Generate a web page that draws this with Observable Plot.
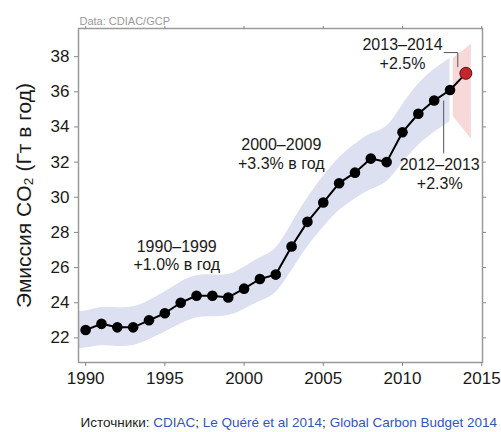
<!DOCTYPE html>
<html>
<head>
<meta charset="utf-8">
<script src="https://cdn.jsdelivr.net/npm/d3@7"></script>
<script src="https://cdn.jsdelivr.net/npm/@observablehq/plot@0.6"></script>
<style>
  body { margin: 0; background: #fff; font-family: "Liberation Sans", Arial, sans-serif; }
  #caption { font-size: 13.5px; text-align: right; padding-right: 4px; margin-top: 10px; color: #222; white-space: nowrap; }
  #caption a { color: #3355bb; text-decoration: none; }
</style>
</head>
<body>
<div id="chart"></div>
<div id="caption">Источники: <a>CDIAC</a>; <a>Le Quéré et al 2014</a>; <a>Global Carbon Budget 2014</a></div>
<script>
const years = [1990,1991,1992,1993,1994,1995,1996,1997,1998,1999,2000,2001,2002,2003,2004,2005,2006,2007,2008,2009,2010,2011,2012,2013,2014];
const emissions = [22.45,22.8,22.6,22.6,23.0,23.4,24.0,24.4,24.4,24.3,24.8,25.35,25.6,27.2,28.6,29.7,30.8,31.4,32.2,32.0,33.7,34.75,35.5,36.1,37.05];

const bandYears = [1989.6,1990,1991,1992,1993,1994,1995,1996,1997,1998,1999,2000,2001,2002,2003,2004,2005,2006,2007,2008,2009,2010,2011,2012,2013];
const bandLo = [21.4,21.4,21.6,21.5,21.5,21.9,22.3,22.8,23.2,23.2,23.2,23.6,24.1,24.4,25.8,27.2,28.3,29.3,29.9,30.5,30.7,32.0,33.0,33.7,34.3];
const bandHi = [23.5,23.5,23.8,23.7,23.7,24.1,24.6,25.2,25.6,25.6,25.5,26.0,26.6,26.9,28.5,30.0,31.2,32.3,33.0,33.7,33.8,35.3,36.5,37.3,37.9];

const projYears = [2013.2, 2014.35];
const projLo = [34.6, 33.3];
const projHi = [37.9, 38.7];

const xTicks = [1990,1995,2000,2005,2010,2015];
const yTicks = [22,24,26,28,30,32,34,36,38];

const notes = [
  {x: 1995.75, y: 26.72, text: "1990–1999\n+1.0% в год"},
  {x: 2002.35, y: 32.48, text: "2000–2009\n+3.3% в год"},
  {x: 2010.0, y: 38.17, text: "2013–2014\n+2.5%"},
  {x: 2012.35, y: 31.34, text: "2012–2013\n+2.3%"}
];
const leaders = [
  {x1: 2012.6, y1: 35.5, x2: 2012.6, y2: 32.5},
  {x1: 2012.6, y1: 38.23, x2: 2013.49, y2: 38.23},
  {x1: 2013.49, y1: 38.23, x2: 2013.49, y2: 37.4}
];

const series = years.map((y, i) => ({year: y, value: emissions[i]}));
const band = bandYears.map((y, i) => ({year: y, lo: bandLo[i], hi: bandHi[i]}));
const proj = projYears.map((y, i) => ({year: y, lo: projLo[i], hi: projHi[i]}));
const last = series.slice(-1);
const hist = series.slice(0, -1);

const font = "Liberation Sans, Arial, sans-serif";

const chart = Plot.plot({
  width: 501,
  height: 405,
  marginTop: 28,
  marginBottom: 43,
  marginLeft: 78,
  marginRight: 19,
  style: {fontFamily: font, background: "#fff", color: "#1a1a1a"},
  x: {domain: [1989.55, 2015.05]},
  y: {domain: [20.6, 39.6]},
  marks: [
    Plot.areaY(band, {x: "year", y1: "lo", y2: "hi", fill: "#dde0f1", curve: "basis"}),
    Plot.areaY(proj, {x: "year", y1: "lo", y2: "hi", fill: "#f6d2d2", fillOpacity: 0.85}),
    Plot.frame({stroke: "#9a9a9a", strokeWidth: 1.5}),
    Plot.axisX({ticks: xTicks, tickFormat: d => String(d), tickSize: 4, tickPadding: 5, fontSize: 17, label: null, stroke: "#888"}),
    Plot.axisX({anchor: "top", ticks: xTicks, tickSize: 3, text: null, label: null, stroke: "#888"}),
    Plot.axisY({ticks: yTicks, tickFormat: d => String(d), tickSize: 4, tickPadding: 5, fontSize: 17, label: null, stroke: "#888"}),
    Plot.axisY({anchor: "right", ticks: yTicks, tickSize: 3, text: null, label: null, stroke: "#888"}),
    Plot.line(series, {x: "year", y: "value", stroke: "#000", strokeWidth: 2}),
    Plot.dot(hist, {x: "year", y: "value", r: 5.3, fill: "#000"}),
    Plot.dot(last, {x: "year", y: "value", r: 6, fill: "#c4262e", stroke: "#5a1010", strokeWidth: 1}),
    Plot.link(leaders, {x1: "x1", y1: "y1", x2: "x2", y2: "y2", stroke: "#555", strokeWidth: 1}),
    Plot.text(notes, {x: "x", y: "y", text: "text", fontSize: 16, fill: "#1a1a1a", lineHeight: 1.15, textAnchor: "middle"}),
    Plot.text(["Эмиссия CO₂ (Гт в год)"], {frameAnchor: "left", text: d => d, rotate: -90, dx: -54, textAnchor: "middle", fontSize: 21, fill: "#1a1a1a"}),
    Plot.text(["Data: CDIAC/GCP"], {frameAnchor: "top-left", text: d => d, dy: -11, dx: 1, textAnchor: "start", fontSize: 11, fill: "#999"})
  ]
});
document.getElementById("chart").appendChild(chart);
</script>
</body>
</html>
